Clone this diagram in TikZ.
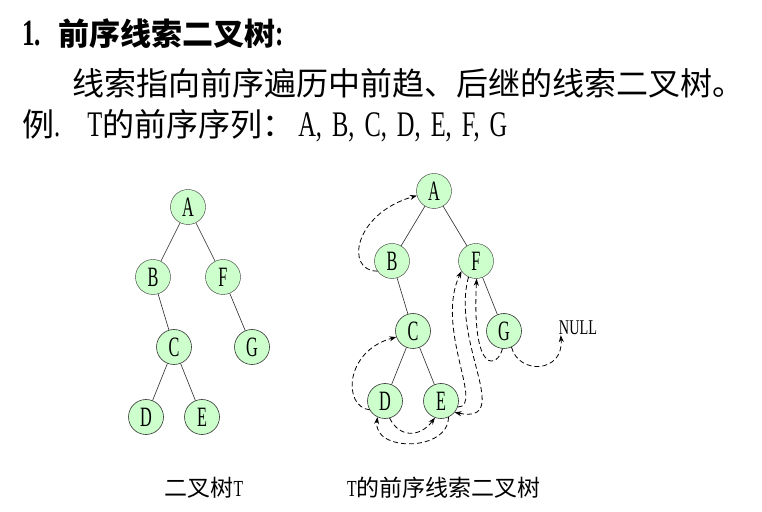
\documentclass[tikz,border=0pt]{standalone}
\usepackage{fontspec}
\setmainfont{Liberation Serif}[FakeStretch=0.68]
\newfontfamily\narrow{Liberation Serif}[FakeStretch=0.58]
\newfontfamily\cjk{Noto Sans CJK SC}
\usetikzlibrary{trees,arrows.meta}
\definecolor{nodegreen}{RGB}{204,255,204}

\begin{document}
\begin{tikzpicture}[x=1pt, y=1pt, level distance=70pt,
  level 2/.style = {sibling distance=42pt}, level 3/.style = {sibling distance=56pt},
  vert/.style = {circle, draw=black!80, fill=nodegreen, minimum size=35pt, inner sep=0pt,
    font=\narrow\fontsize{28}{28}\selectfont},
  every child node/.style = {vert},
  edge from parent/.style = {draw, black!85, line width=0.6pt},
  thread/.style = {draw, line width=0.8pt, dash pattern=on 5pt off 3pt,
    -{Stealth[length=7pt, width=5pt]}},
  line/.style = {anchor=west, inner sep=0pt}]
  \useasboundingbox (0,0) rectangle (762,511);

  \node[line, font=\bfseries\fontsize{37}{40}\selectfont] (title) at (22,477)
    {1.\hspace{17pt}{\fontsize{31}{36}\selectfont\cjk 前序线索二叉树}:};
  \node[line, font=\fontsize{32}{38}\selectfont] (intro) at (72,428)
    {\cjk 线索指向前序遍历中前趋、后继的线索二叉树。};
  \node[line, font=\fontsize{36}{38}\selectfont] (example) at (22,385)
    {{\fontsize{32}{38}\selectfont\cjk 例}.\hspace{27pt}T{\fontsize{32}{38}\selectfont\cjk 的前序序列：}\hspace{4pt}{\spaceskip=10pt A, B, C, D, E, F, G}};

  \node[vert] (ta) at (188,304) {A} [sibling distance=70pt]
    child {node (tb) {B}
      child[missing]
      child {node (tc) {C}
        child {node (td) {D}}
        child {node (te) {E}}}}
    child {node (tf) {F}
      child[missing]
      child[sibling distance=58pt] {node (tg) {G}}};

  \node[vert] (pa) at (434,320) {A} [sibling distance=84pt]
    child {node (pb) {B}
      child[missing]
      child {node (pc) {C}
        child {node (pd) {D}}
        child {node (pe) {E}}}}
    child {node (pf) {F}
      child[missing]
      child[sibling distance=56pt] {node (pg) {G}}};

  \node[inner sep=0pt, font=\fontsize{21}{21}\selectfont] (null) at (578,183) {NULL};

  \draw[thread] (pb.215) .. controls +(-33,0) and +(-63,-18) .. (pa.195);
  \draw[thread] (pd.210) .. controls +(-27,3) and +(-52,-14) .. (pc.200);
  \draw[thread] (pd.285) .. controls +(10,-20) and +(-15,-20) .. (pe.250);
  \draw[thread] (pe.295) .. controls +(0,-35) and +(-5,-35) .. (pd.245);
  \draw[thread] (pe.340) .. controls +(27,0) and +(-27,-57) .. (pf.215);
  \draw[thread] (pf.245) .. controls +(-18,-65) and +(60,-12) .. (pe.320);
  \draw[thread] (pg.265) .. controls +(-4,-18) and +(-5,-100) .. (pf.272);
  \draw[thread] (pg.295) .. controls +(7,-28) and +(3,-38) .. ([xshift=2pt]null.south west);

  \node[font=\fontsize{23}{23}\selectfont] (tlabel) at (204,23) {{\cjk 二叉树}T};
  \node[font=\fontsize{23}{23}\selectfont] (plabel) at (444,23) {T{\cjk 的前序线索二叉树}};
\end{tikzpicture}
\end{document}
